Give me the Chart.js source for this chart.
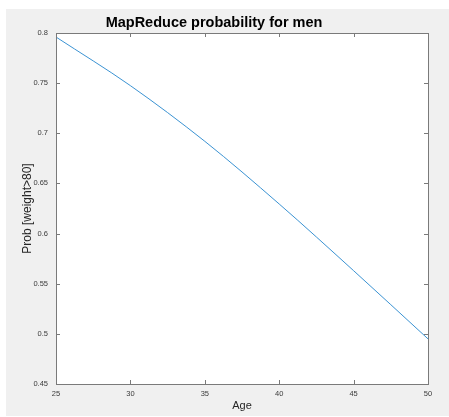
<!DOCTYPE html>
<html>
<head>
<meta charset="utf-8">
<title>MapReduce probability for men</title>
<script src="https://cdn.jsdelivr.net/npm/chart.js@4/dist/chart.umd.min.js"></script>
<style>
html, body { margin: 0; padding: 0; background: #ffffff; }
canvas { display: block; }
</style>
</head>
<body>
<canvas id="probChart" width="449" height="417"></canvas>
<script>

// ---------- DATA ----------

const ages = [25, 30, 35, 40, 45, 50];
const probMen = [0.796, 0.7475, 0.692, 0.6295, 0.563, 0.495];

const xTicks = [25, 30, 35, 40, 45, 50];
const xTickLabels = ["25", "30", "35", "40", "45", "50"];
const yTicks = [0.45, 0.5, 0.55, 0.6, 0.65, 0.7, 0.75, 0.8];
const yTickLabels = ["0.45", "0.5", "0.55", "0.6", "0.65", "0.7", "0.75", "0.8"];

const FONT = "'Liberation Sans', Arial, Helvetica, sans-serif";
const BOX = "#7a7a7a";


// ---------- MATLAB STYLE FRAME ----------

// gray figure background + white axes area
const figureBackground = {
id: "figureBackground",
beforeDraw(chart){
const ctx = chart.ctx;
const a = chart.chartArea;
ctx.save();
ctx.fillStyle = "#f0f0f0";
ctx.fillRect(6, 9, chart.width - 6, 407);
ctx.fillStyle = "#ffffff";
ctx.fillRect(a.left, a.top, a.right - a.left, a.bottom - a.top);
ctx.restore();
}
};

// box round the axes with ticks pointing inside, on all four sides
const axesBox = {
id: "axesBox",
afterDatasetsDraw(chart){
const ctx = chart.ctx;
const a = chart.chartArea;
const xs = chart.scales.x;
const ys = chart.scales.y;
const len = 4;
ctx.save();
ctx.strokeStyle = BOX;
ctx.lineWidth = 1;
ctx.beginPath();
xTicks.forEach(v => {
let px = Math.round(xs.getPixelForValue(v)) + 0.5;
ctx.moveTo(px, a.bottom); ctx.lineTo(px, a.bottom - len);
ctx.moveTo(px, a.top); ctx.lineTo(px, a.top + len);
});
yTicks.forEach(v => {
let py = Math.round(ys.getPixelForValue(v)) + 0.5;
ctx.moveTo(a.left, py); ctx.lineTo(a.left + len, py);
ctx.moveTo(a.right, py); ctx.lineTo(a.right - len, py);
});
ctx.stroke();
ctx.strokeRect(Math.round(a.left) + 0.5, Math.round(a.top) + 0.5,
Math.round(a.right - a.left), Math.round(a.bottom - a.top));
ctx.restore();
}
};


// ---------- CHART ----------

new Chart(document.getElementById("probChart"), {

type: "line",

data: {
labels: ages,
datasets: [{
data: ages.map((a, i) => ({ x: a, y: probMen[i] })),
borderColor: "#3b93d3",
borderWidth: 1,
pointRadius: 0,
cubicInterpolationMode: "monotone",
fill: false
}]
},

options: {
responsive: false,
animation: false,
devicePixelRatio: 1,
layout: { padding: { left: 0, right: 21, top: 0, bottom: 0 } },
plugins: {
legend: { display: false },
tooltip: { enabled: false },
title: {
display: true,
text: "MapReduce probability for men",
color: "#000000",
font: { family: FONT, size: 14.5, weight: "bold", lineHeight: 1.2 },
padding: { top: 14, bottom: 1.6 }
}
},
scales: {
x: {
type: "linear",
min: 25,
max: 50,
afterFit(scale){ scale.height = 33; },
afterBuildTicks(scale){ scale.ticks = xTicks.map(v => ({ value: v })); },
grid: { display: false, drawTicks: false },
border: { display: false },
ticks: {
padding: 5,
color: "#3a3a3a",
font: { family: FONT, size: 7.5 },
maxRotation: 0,
callback: (v, i) => xTickLabels[i]
},
title: {
display: true,
text: "Age",
color: "#262626",
font: { family: FONT, size: 11, lineHeight: 1.2 },
padding: { top: 0, bottom: 4 }
}
},
y: {
type: "linear",
min: 0.45,
max: 0.8,
afterFit(scale){ scale.width = 56; },
afterBuildTicks(scale){ scale.ticks = yTicks.map(v => ({ value: v })); },
grid: { display: false, drawTicks: false },
border: { display: false },
ticks: {
padding: 8,
color: "#3a3a3a",
font: { family: FONT, size: 7.5 },
callback: (v, i) => yTickLabels[i]
},
title: {
display: true,
text: "Prob [weight>80]",
color: "#262626",
font: { family: FONT, size: 12, lineHeight: 1.2 },
padding: { top: 20, bottom: 0 }
}
}
}
},

plugins: [figureBackground, axesBox]

});

</script>
</body>
</html>
